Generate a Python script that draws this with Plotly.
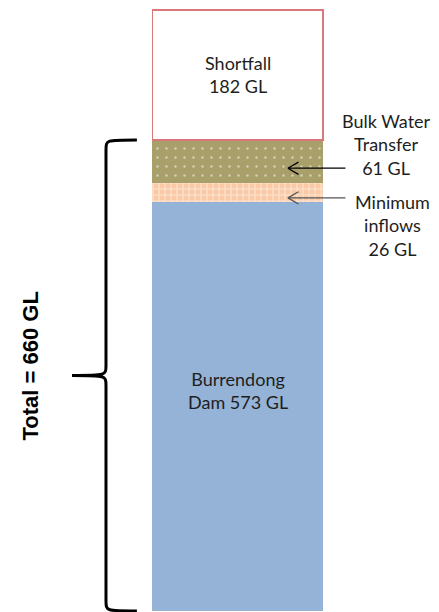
import plotly.graph_objects as go

# Data
components = ["Burrendong Dam", "Minimum inflows", "Bulk Water Transfer", "Shortfall"]
values_gl = [573, 26, 61, 182]
inner_labels = ["Burrendong<br>Dam 573 GL", "", "", "Shortfall<br>182 GL"]
side_labels = ["", "Minimum<br>inflows<br>26 GL", "Bulk Water<br>Transfer<br>61 GL", ""]
total_label = "Total = 660 GL"

supply_total = sum(values_gl[:3])

colors = ["#95B3D7", "#FAC9A6", "#A89F6B", "#FFFFFF"]
patterns = [None, dict(shape="+", fgcolor="#FFFFFF", bgcolor="#FAC9A6", size=6, solidity=0.35),
            dict(shape=".", fgcolor="#FFFFFF", bgcolor="#A89F6B", size=9, solidity=0.06), None]

W, H = 439, 612
FONT = dict(family="Lato", size=18, color="#1E1E1E")

fig = go.Figure()
for i, (name, v) in enumerate(zip(components, values_gl)):
    marker = dict(color=colors[i])
    if patterns[i]:
        marker["pattern"] = patterns[i]
    if name == "Shortfall":
        marker["line"] = dict(color="#D9777A", width=1.5)
    else:
        marker["line"] = dict(width=0)
    fig.add_trace(go.Bar(
        x=[0], y=[v], name=name, width=1, marker=marker,
        hoverinfo="skip", showlegend=False,
    ))

# Cumulative bases
bases = []
acc = 0
for v in values_gl:
    bases.append(acc)
    acc += v

# Inner labels
inner_frac = {0: 0.54, 3: 0.5}
for i, frac in inner_frac.items():
    fig.add_annotation(x=0, y=bases[i] + values_gl[i] * frac, xref="x", yref="y",
                       text=inner_labels[i], showarrow=False, font=FONT)

# Arrows + side labels for the thin segments
arrow_colors = {1: "#555555", 2: "#000000"}
arrow_frac = {1: 0.22, 2: 0.35}
label_pos = {2: (386, 144), 1: (392, 225)}
for i in (1, 2):
    y_arrow = bases[i] + values_gl[i] * arrow_frac[i]
    for ax, ay in ((59, 0), (12, -7), (12, 7)):
        fig.add_annotation(x=0.295, y=y_arrow, xref="x", yref="y", ax=ax, ay=ay,
                           showarrow=True, arrowhead=0, arrowwidth=1.3,
                           arrowcolor=arrow_colors[i], text="")
    px, py = label_pos[i]
    fig.add_annotation(x=px / W, y=1 - py / H, xref="paper", yref="paper",
                       xanchor="center", yanchor="middle",
                       text=side_labels[i], showarrow=False, font=FONT)

# Brace spanning supply total
y0, y1, ym = 0, supply_total, supply_total / 2
xr, xv, xt = -0.59, -0.771, -0.97
d = 14
brace = (f"M {xr} {y1} C {xv} {y1}, {xv} {y1}, {xv} {y1 - d} "
         f"L {xv} {ym + d} C {xv} {ym}, {xv} {ym}, {xt} {ym} "
         f"C {xv} {ym}, {xv} {ym}, {xv} {ym - d} "
         f"L {xv} {y0 + d} C {xv} {y0}, {xv} {y0}, {xr} {y0}")
fig.add_shape(type="path", path=brace, xref="x", yref="y", line=dict(color="#000000", width=3))

fig.add_annotation(x=-1.216, y=ym, yshift=9, xref="x", yref="y", text=f"<b>{total_label}</b>",
                   textangle=-90, showarrow=False,
                   font=dict(family="Liberation Sans", size=22, color="#000000"))

fig.update_layout(
    barmode="stack", width=W, height=H,
    margin=dict(l=0, r=0, t=0, b=0, pad=0),
    plot_bgcolor="white", paper_bgcolor="white",
    xaxis=dict(range=[-1.392, 1.18], visible=False, fixedrange=True),
    yaxis=dict(range=[-1.4, 856], visible=False, fixedrange=True),
)
fig.write_html("out.html", post_script="document.body.style.margin='0';",
               config={"displayModeBar": False})
